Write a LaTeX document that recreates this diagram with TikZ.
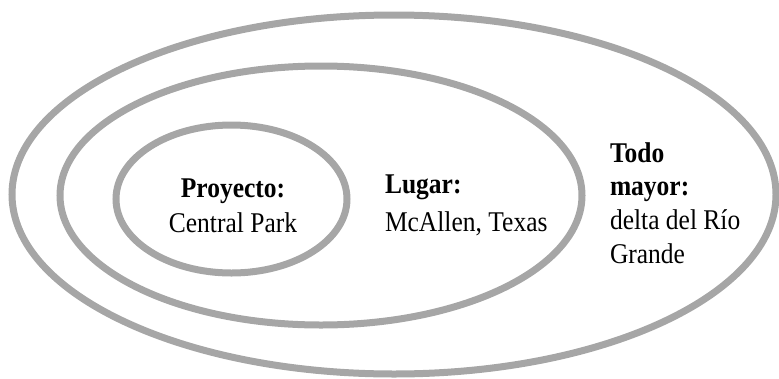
\documentclass[tikz,border=0pt]{standalone}
\usepackage{fontspec}
\usepackage{graphicx}
\setmainfont{Liberation Serif}
\definecolor{ringgray}{RGB}{166,166,166}
\tikzset{
  ring/.style={draw=ringgray, line width=7pt},
  label/.style={inner sep=0pt, outer sep=0pt,
    font=\fontsize{25.5}{32}\selectfont},
}
% stacked lines, first-line baseline, slightly tall type
\newcommand{\stackL}[2]{\scalebox{1}[1.12]{\fontsize{25.5}{#1}\selectfont\begin{tabular}[t]{@{}l@{}}#2\end{tabular}}}
\newcommand{\stackC}[2]{\scalebox{1}[1.12]{\fontsize{25.5}{#1}\selectfont\begin{tabular}[t]{@{}c@{}}#2\end{tabular}}}
\begin{document}
\begin{tikzpicture}[x=1pt, y=-1pt]
  \useasboundingbox (0,0) rectangle (779,378);
  % nested rings
  \draw[ring] (394,194.5) ellipse [x radius=382, y radius=179.5];
  \draw[ring] (321,195.5) ellipse [x radius=261, y radius=129.5];
  \draw[ring] (231.5,199) ellipse [x radius=115.5, y radius=74];
  % labels
  \node[label, anchor=base] (proyecto) at (233,197)
    {\stackC{32.1pt}{\textbf{Proyecto:}\\Central Park}};
  \node[label, anchor=base west] (lugar) at (385,193)
    {\stackL{34.4pt}{\textbf{Lugar:}\\McAllen, Texas}};
  \node[label, anchor=base west] (todo) at (610,162)
    {\stackL{30.1pt}{\textbf{Todo}\\\textbf{mayor:}\\delta del Río\\Grande}};
\end{tikzpicture}
\end{document}
